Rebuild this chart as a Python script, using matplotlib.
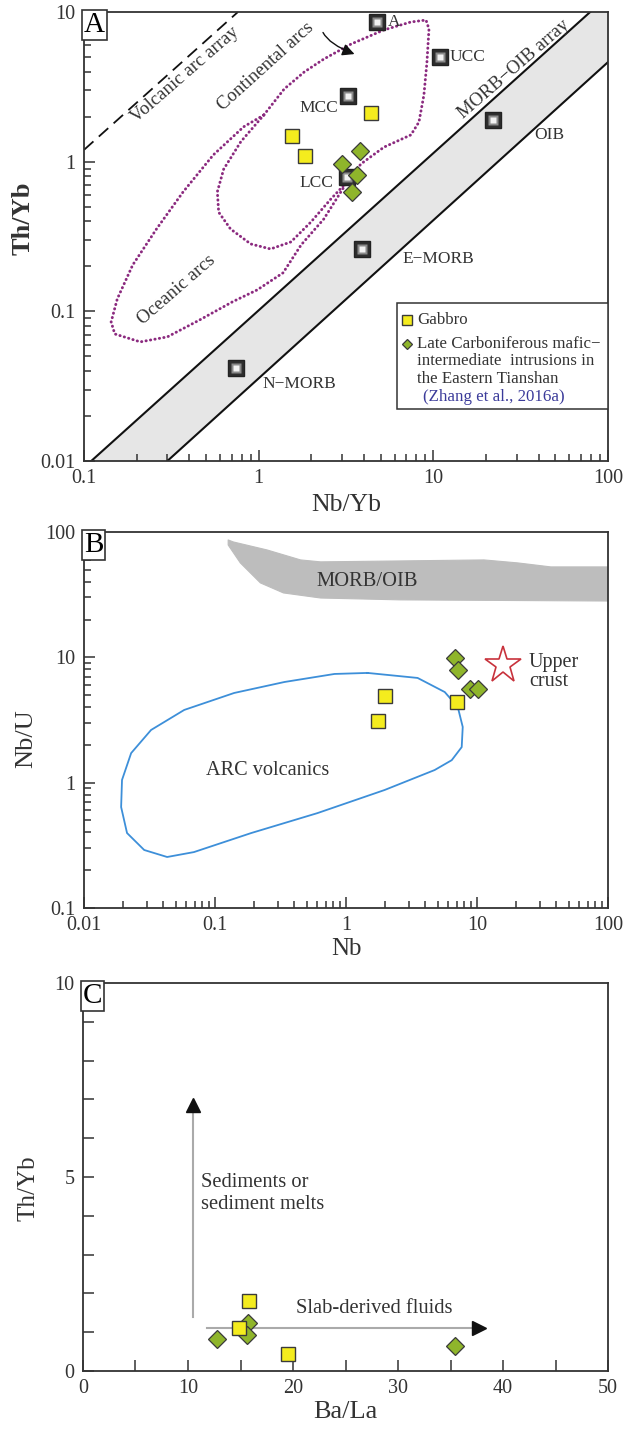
import numpy as np
import matplotlib
matplotlib.use('Agg')
import matplotlib.pyplot as plt
from matplotlib.patches import Polygon

plt.rcParams['font.family'] = ['Liberation Serif', 'DejaVu Serif']
plt.rcParams['mathtext.fontset'] = 'stix'

INK = '#333333'
YELLOW = '#f4ec1e'
GREEN = '#8fb52b'
PURPLE = '#8b2a7f'

# ---- A: Th/Yb vs Nb/Yb ----
gabbro_a_x = [4.4, 1.55, 1.84]
gabbro_a_y = [2.11, 1.49, 1.09]
intr_a_x = [3.8, 3.0, 3.65, 3.42]
intr_a_y = [1.18, 0.97, 0.82, 0.63]

ref_names = ['A', 'UCC', 'MCC', 'LCC', 'OIB', 'E\u2212MORB', 'N\u2212MORB']
ref_x = [4.75, 10.9, 3.24, 3.2, 21.9, 3.9, 0.74]
ref_y = [8.6, 5.0, 2.75, 0.79, 1.9, 0.26, 0.042]
ref_offset = [(8, 0), (7, 0), (-7, -9), (-10, -4), (30, -11), (29, -7), (19, -12)]
ref_align = ['left', 'left', 'right', 'right', 'left', 'left', 'left']

# MORB-OIB array bounding lines
array_hi_x = [0.11, 79.0]
array_hi_y = [0.01, 10.0]
array_lo_x = [0.30, 100.0]
array_lo_y = [0.01, 4.63]
# volcanic arc array
varc_x = [0.1, 0.76]
varc_y = [1.2, 10.0]

# continental arcs field
cont_x = [1.07, 1.40, 1.82, 2.36, 3.38, 5.21, 7.44, 9.08, 9.44, 9.19, 8.83,
          8.27, 7.44, 5.21, 3.85, 3.20, 2.59, 1.99, 1.53, 1.17, 0.90, 0.69,
          0.59, 0.58, 0.63, 0.79, 1.07]
cont_y = [2.05, 3.06, 3.97, 4.85, 6.11, 7.59, 8.58, 8.84, 7.70, 4.63, 2.79,
          1.84, 1.51, 1.25, 0.966, 0.731, 0.563, 0.395, 0.291, 0.261, 0.282,
          0.355, 0.46, 0.63, 0.89, 1.36, 2.05]
# oceanic arcs field (joins the continental field at both ends)
ocean_x = [1.07, 0.82, 0.55, 0.37, 0.26, 0.19, 0.155, 0.143, 0.150, 0.21,
           0.30, 0.46, 0.71, 0.98, 1.38, 1.75, 2.36, 2.96, 3.20]
ocean_y = [2.05, 1.71, 1.11, 0.63, 0.355, 0.204, 0.121, 0.085, 0.0706,
           0.0625, 0.0675, 0.0877, 0.116, 0.139, 0.181, 0.278, 0.414, 0.63,
           0.731]

# ---- B: Nb/U vs Nb ----
gabbro_b_x = [1.97, 1.75, 7.0]
gabbro_b_y = [4.9, 3.1, 4.4]
intr_b_x = [6.76, 7.13, 8.8, 10.1]
intr_b_y = [9.9, 7.9, 5.6, 5.6]
crust_x = [15.7]
crust_y = [8.6]

arc_x = [1.46, 3.52, 5.67, 7.13, 7.78, 7.64, 6.41, 4.75, 1.97, 0.605, 0.189,
         0.069, 0.0431, 0.0288, 0.0213, 0.0192, 0.0195, 0.0229, 0.0325,
         0.0582, 0.140, 0.339, 0.817, 1.46]
arc_y = [7.50, 6.84, 5.28, 4.01, 2.78, 1.92, 1.51, 1.26, 0.873, 0.571, 0.396,
         0.279, 0.255, 0.290, 0.396, 0.638, 1.05, 1.72, 2.63, 3.80, 5.19,
         6.35, 7.36, 7.50]

morb_x = [0.126, 0.138, 0.25, 0.45, 0.64, 2.61, 11.3, 20.5, 36.6, 100.0,
          100.0, 2.61, 0.64, 0.333, 0.222, 0.156, 0.126]
morb_y = [86.3, 83.2, 71.8, 59.8, 57.7, 58.7, 59.8, 56.6, 52.6, 52.6,
          28.1, 28.7, 29.7, 32.6, 39.2, 56.6, 78.7]

# ---- C: Th/Yb vs Ba/La ----
gabbro_c_x = [15.8, 14.9, 19.5]
gabbro_c_y = [1.8, 1.1, 0.44]
intr_c_x = [12.8, 15.7, 15.6, 35.4]
intr_c_y = [0.82, 1.24, 0.92, 0.64]


def style_axes(ax):
    for s in ax.spines.values():
        s.set_color(INK)
        s.set_linewidth(1.3)
    ax.tick_params(which='both', direction='in', colors=INK,
                   labelsize=14.5, width=1.1, pad=6)
    ax.tick_params(which='major', length=8)
    ax.tick_params(which='minor', length=5)


def panel_letter(ax, letter):
    ax.text(0.0, 1.0, letter, transform=ax.transAxes, ha='left', va='top',
            fontsize=21, color='black', zorder=10,
            bbox=dict(boxstyle='square,pad=0.06', fc='white', ec=INK, lw=1.2))


def ref_square(ax, x, y):
    ax.plot(x, y, 's', ms=11, mfc='#2e2e2e', mec='#222222', mew=1.0,
            ls='none', zorder=6)
    ax.plot(x, y, 's', ms=7.5, mfc='#8a8a8a', mec='none', ls='none', zorder=7)
    ax.plot(x, y, 's', ms=4, mfc='#f2f2f2', mec='none', ls='none',
            zorder=8)


def gabbro(ax, x, y, ms=10.5, **kw):
    ax.plot(x, y, 's', ms=ms, mfc=YELLOW, mec='#3a3a3a', mew=1.0,
            ls='none', zorder=9, **kw)


def intrusion(ax, x, y, ms=9, **kw):
    ax.plot(x, y, 'D', ms=ms, mfc=GREEN, mec='#3a3a3a', mew=0.9,
            ls='none', zorder=9, **kw)


fig = plt.figure(figsize=(6.36, 14.33), dpi=100)
axA = fig.add_axes([0.1321, 0.6783, 0.8239, 0.3133])
axB = fig.add_axes([0.1321, 0.3664, 0.8239, 0.2624])
axC = fig.add_axes([0.1305, 0.0433, 0.8255, 0.2708])

# ================= A =================
ax = axA
ax.set_xscale('log')
ax.set_yscale('log')
ax.set_xlim(0.1, 100)
ax.set_ylim(0.01, 10)

band = Polygon(list(zip(array_hi_x + [100.0] + array_lo_x[::-1],
                        array_hi_y + [10.0] + array_lo_y[::-1])),
               closed=True, fc='#e6e6e6', ec='none', zorder=1)
ax.add_patch(band)
ax.plot(array_hi_x, array_hi_y, color='#111111', lw=1.5, zorder=2)
ax.plot(array_lo_x, array_lo_y, color='#111111', lw=1.5, zorder=2)
ax.plot(varc_x, varc_y, color='#111111', lw=1.3, dashes=(7, 4), zorder=2)

dots = dict(color=PURPLE, lw=2.1, dashes=(0.1, 1.45), dash_capstyle='round',
            zorder=3)
ax.plot(cont_x, cont_y, **dots)
ax.plot(ocean_x, ocean_y, **dots)

ax.annotate('', xy=(3.66, 5.16), xytext=(2.30, 7.59),
            arrowprops=dict(arrowstyle='-|>', color='#111111', lw=1.0,
                            mutation_scale=18,
                            connectionstyle='angle3,angleA=-70,angleB=-20'),
            zorder=5)

tkw = dict(fontsize=13.5, color=INK, ha='center', va='center',
           rotation_mode='anchor')
ax.text(0.378, 3.79, 'Volcanic arc array', rotation=41, **tkw)
ax.text(1.09, 4.29, 'Continental arcs', rotation=42, **tkw)
ax.text(0.340, 0.139, 'Oceanic arcs', rotation=41, **tkw)
ax.text(28.9, 4.16, 'MORB\u2212OIB array', rotation=41, **tkw)

for name, x, y, off, ha in zip(ref_names, ref_x, ref_y, ref_offset, ref_align):
    ref_square(ax, x, y)
    ax.annotate(name, (x, y), xytext=off, textcoords='offset points',
                ha=ha, va='center', fontsize=12.5, color=INK, zorder=8)

gabbro(ax, gabbro_a_x, gabbro_a_y)
intrusion(ax, intr_a_x, intr_a_y)

# legend box
ax.add_patch(plt.Rectangle((0.597, 0.116), 0.403, 0.236,
                           transform=ax.transAxes, fc='white', ec=INK,
                           lw=1.1, zorder=10))
gabbro(ax, [0.616], [0.314], ms=6.5, transform=ax.transAxes, clip_on=False)
ax.lines[-1].set_zorder(11)
intrusion(ax, [0.616], [0.261], ms=5.5, transform=ax.transAxes,
          clip_on=False)
ax.lines[-1].set_zorder(11)
lkw = dict(transform=ax.transAxes, fontsize=12.2, color=INK, ha='left',
           va='center', zorder=11)
ax.text(0.635, 0.314, 'Gabbro', **lkw)
ax.text(0.635, 0.261, 'Late Carboniferous mafic\u2212', **lkw)
ax.text(0.635, 0.222, 'intermediate  intrusions in', **lkw)
ax.text(0.635, 0.182, 'the Eastern Tianshan', **lkw)
lkw['color'] = '#3b3b9a'
ax.text(0.647, 0.142, '(Zhang et al., 2016a)', **lkw)

style_axes(ax)
ax.set_xticks([0.1, 1, 10, 100])
ax.set_xticklabels(['0.1', '1', '10', '100'])
ax.set_yticks([0.01, 0.1, 1, 10])
ax.set_yticklabels(['0.01', '0.1', '1', '10'])
ax.yaxis.set_minor_formatter(matplotlib.ticker.NullFormatter())
ax.xaxis.set_minor_formatter(matplotlib.ticker.NullFormatter())
ax.set_xlabel('Nb/Yb', fontsize=18.5, color=INK, labelpad=4)
ax.set_ylabel('Th/Yb', fontsize=19, color=INK, fontweight='bold')
ax.yaxis.set_label_coords(-0.094, 0.54)
panel_letter(ax, 'A')

# ================= B =================
ax = axB
ax.set_xscale('log')
ax.set_yscale('log')
ax.set_xlim(0.01, 100)
ax.set_ylim(0.1, 100)

ax.add_patch(Polygon(list(zip(morb_x, morb_y)), closed=True, fc='#bdbdbd',
                     ec='#bdbdbd', lw=0.8, joinstyle='round', zorder=1))
ax.plot(arc_x, arc_y, color='#3d8fd9', lw=1.3, solid_joinstyle='round',
        zorder=2)
ax.plot(crust_x, crust_y, '*', ms=28, mfc='white', mec='#c8323c', mew=1.2,
        ls='none', zorder=5)

ax.text(1.46, 39.9, 'MORB/OIB', fontsize=14.8, color=INK, ha='center',
        va='center')
ax.text(0.251, 1.26, 'ARC volcanics', fontsize=14.6, color=INK, ha='center',
        va='center')
ax.text(24.9, 7.6, 'Upper\ncrust', fontsize=14.5, color=INK, ha='left',
        va='center', linespacing=1.0)

gabbro(ax, gabbro_b_x, gabbro_b_y)
intrusion(ax, intr_b_x, intr_b_y)

style_axes(ax)
ax.set_xticks([0.01, 0.1, 1, 10, 100])
ax.set_xticklabels(['0.01', '0.1', '1', '10', '100'])
ax.set_yticks([0.1, 1, 10, 100])
ax.set_yticklabels(['0.1', '1', '10', '100'])
ax.yaxis.set_minor_formatter(matplotlib.ticker.NullFormatter())
ax.xaxis.set_minor_formatter(matplotlib.ticker.NullFormatter())
ax.set_xlabel('Nb', fontsize=18, color=INK, labelpad=2)
ax.set_ylabel('Nb/U', fontsize=19, color=INK)
ax.yaxis.set_label_coords(-0.09, 0.45)
panel_letter(ax, 'B')

# ================= C =================
ax = axC
ax.set_xlim(0, 50)
ax.set_ylim(0, 10)

ax.plot([10.5, 10.5], [1.4, 6.75], color='#aaaaaa', lw=1.5, zorder=2)
ax.plot([10.5], [6.85], '^', ms=10, color='#111111', zorder=3)
ax.plot([11.8, 37.6], [1.1, 1.1], color='#aaaaaa', lw=1.5, zorder=2)
ax.plot([37.7], [1.1], '>', ms=10, color='#111111', zorder=3)

ctk = dict(fontsize=14.8, color=INK, ha='left', va='center')
ax.text(11.2, 4.85, 'Sediments or', **ctk)
ax.text(11.2, 4.28, 'sediment melts', **ctk)
ax.text(20.3, 1.62, 'Slab-derived fluids', **ctk)

intrusion(ax, intr_c_x, intr_c_y)
gabbro(ax, gabbro_c_x, gabbro_c_y)

style_axes(ax)
ax.set_xticks(np.arange(0, 51, 10))
ax.set_xticks(np.arange(5, 50, 10), minor=True)
ax.set_yticks([0, 5, 10])
ax.set_yticks([1, 2, 3, 4, 6, 7, 8, 9], minor=True)
ax.tick_params(which='minor', length=8)
ax.set_xlabel('Ba/La', fontsize=19, color=INK, labelpad=2)
ax.set_ylabel('Th/Yb', fontsize=18, color=INK)
ax.yaxis.set_label_coords(-0.082, 0.47)
panel_letter(ax, 'C')

fig.savefig('out.png', dpi=100)
